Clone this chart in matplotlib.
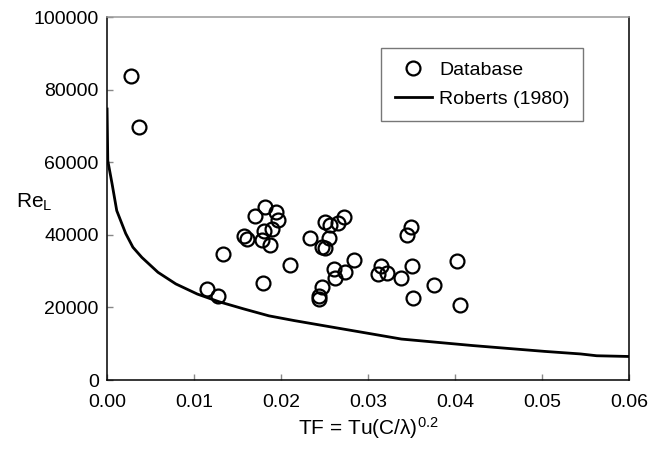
import numpy as np
import matplotlib
matplotlib.use("Agg")
import matplotlib.pyplot as plt

plt.rcParams["font.family"] = ["Liberation Sans", "DejaVu Sans"]
plt.rcParams["mathtext.fontset"] = "custom"
plt.rcParams["mathtext.rm"] = "Liberation Sans"
plt.rcParams["mathtext.it"] = "Liberation Sans"

# database points (TF, Re_L)
tf_data = [0.0028, 0.0037, 0.0115, 0.0128, 0.0133, 0.0157, 0.0161, 0.0170,
           0.0182, 0.0194, 0.0196, 0.0190, 0.0180, 0.0178, 0.0187, 0.0179,
           0.0210, 0.0233, 0.0250, 0.0256, 0.0265, 0.0272, 0.0255, 0.0247,
           0.0251, 0.0261, 0.0262, 0.0274, 0.0284, 0.0247, 0.0244, 0.0244,
           0.0311, 0.0315, 0.0322, 0.0338, 0.0345, 0.0349, 0.0351, 0.0352,
           0.0376, 0.0402, 0.0406]
re_data = [83700, 69700, 25100, 23300, 34800, 39600, 38900, 45300,
           47800, 46200, 44100, 41600, 41200, 38600, 37300, 26800,
           31800, 39200, 43500, 42600, 43300, 44900, 39100, 36600,
           36400, 30700, 28000, 29700, 33100, 25700, 23300, 22300,
           29200, 31300, 29500, 28000, 40000, 42300, 31400, 22500,
           26300, 32800, 20800]

# Roberts (1980) correlation
tf_roberts = [0.0, 0.00008, 0.00058, 0.00111, 0.00214, 0.00297, 0.0040,
              0.00585, 0.0079, 0.01038, 0.01285, 0.01573, 0.01861, 0.0215,
              0.02561, 0.02998, 0.03385, 0.03797, 0.04209, 0.0462, 0.05032,
              0.05444, 0.0563, 0.06]
re_roberts = [74700, 60500, 54000, 46700, 40400, 36600, 33800,
              29700, 26500, 23700, 21600, 19600, 17700, 16400,
              14700, 12900, 11300, 10400, 9500, 8700, 7900,
              7200, 6700, 6500]

fig = plt.figure(figsize=(6.49, 4.53), dpi=100)
ax = fig.add_axes([0.165, 0.161, 0.804, 0.801])

ax.plot(tf_data, re_data, linestyle="none", marker="o", markersize=10,
        markerfacecolor="none", markeredgecolor="black", markeredgewidth=1.6,
        label="Database")
ax.plot(tf_roberts, re_roberts, color="black", linewidth=2.0,
        label="Roberts (1980)")

ax.set_xlim(0, 0.06)
ax.set_ylim(0, 100000)
ax.set_xticks(np.arange(0, 0.061, 0.01))
ax.set_xticklabels(["0.00", "0.01", "0.02", "0.03", "0.04", "0.05", "0.06"])
ax.set_yticks(np.arange(0, 100001, 20000))
ax.set_yticklabels(["0", "20000", "40000", "60000", "80000", "100000"])

ax.tick_params(direction="in", length=4, width=1, color="#888888",
               labelsize=14)
ax.tick_params(axis="x", pad=10)
ax.tick_params(axis="y", pad=6)

for side in ["left", "bottom", "right"]:
    ax.spines[side].set_linewidth(1.1)
    ax.spines[side].set_color("black")
ax.spines["top"].set_color("#999999")
ax.spines["top"].set_linewidth(1.1)

ax.set_xlabel(r"TF = Tu(C/$\lambda$)$^{0.2}$", fontsize=15, labelpad=3)
ax.text(-0.14, 0.49, r"Re$_\mathrm{L}$", transform=ax.transAxes,
        fontsize=15, ha="center", va="center")

leg = ax.legend(loc="upper left", bbox_to_anchor=(0.525, 0.915), fontsize=14,
                frameon=True, fancybox=False, borderpad=0.7, borderaxespad=0,
                handlelength=1.9, handletextpad=0.4, labelspacing=0.55)
leg.get_frame().set_edgecolor("#555555")
leg.get_frame().set_linewidth(1.0)

fig.savefig("out.png", dpi=100)
